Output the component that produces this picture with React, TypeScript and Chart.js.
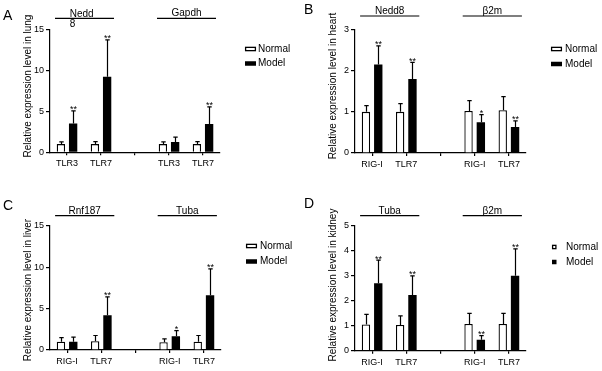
import React, { useEffect, useRef } from "react";
import { Chart, registerables } from "chart.js";

Chart.register(...registerables);

const FONT = '"Liberation Sans", Arial, Helvetica, sans-serif';

const seriesNames = ["Normal", "Model"];

// ---------- Panel A: lung ----------
const catsA = ["TLR3", "TLR7", "", "TLR3", "TLR7"];
const groupsA = [["Nedd", "8"], ["Gapdh"]];
const normalA = [1.0, 1.0, null, 1.0, 1.0];
const normalErrA = [0.28, 0.3, null, 0.28, 0.3];
const modelA = [3.5, 9.2, null, 1.25, 3.45];
const modelErrA = [1.55, 4.5, null, 0.6, 2.1];
const starsA = ["**", "**", "", "", "**"];
const yTicksA = [0, 5, 10, 15];

// ---------- Panel B: heart ----------
const catsB = ["RIG-I", "TLR7", "", "RIG-I", "TLR7"];
const groupsB = [["Nedd8"], ["β2m"]];
const normalB = [1.0, 1.0, null, 1.02, 1.04];
const normalErrB = [0.15, 0.2, null, 0.25, 0.33];
const modelB = [2.15, 1.8, null, 0.75, 0.63];
const modelErrB = [0.45, 0.4, null, 0.18, 0.15];
const starsB = ["**", "**", "", "*", "**"];
const yTicksB = [0, 1, 2, 3];

// ---------- Panel C: liver ----------
const catsC = ["RIG-I", "TLR7", "", "RIG-I", "TLR7"];
const groupsC = [["Rnf187"], ["Tuba"]];
const normalC = [1.0, 1.05, null, 0.95, 1.0];
const normalErrC = [0.5, 0.7, null, 0.4, 0.75];
const modelC = [1.0, 4.2, null, 1.65, 6.6];
const modelErrC = [0.55, 2.2, null, 0.7, 3.2];
const starsC = ["", "**", "", "*", "**"];
const yTicksC = [0, 5, 10, 15];

// ---------- Panel D: kidney ----------
const catsD = ["RIG-I", "TLR7", "", "RIG-I", "TLR7"];
const groupsD = [["Tuba"], ["β2m"]];
const normalD = [1.05, 1.03, null, 1.07, 1.07];
const normalErrD = [0.4, 0.36, null, 0.42, 0.42];
const modelD = [2.7, 2.23, null, 0.44, 3.0];
const modelErrD = [0.92, 0.76, null, 0.16, 1.07];
const starsD = ["**", "**", "", "**", "**"];
const yTicksD = [0, 1, 2, 3, 4, 5];

type Layout = {
  x: number; y: number; w: number; h: number;
  left: number; right: number; top: number; bottom: number;
  letter: string; letterX: number; letterY: number;
  title: string; titleX: number; titleY: number;
  groupLineY: number;
  legendX: number; legendTextX: number; legendY1: number; legendY2: number; squareLegend: boolean;
};

type Spec = {
  cats: string[]; groups: string[][];
  normal: (number | null)[]; normalErr: (number | null)[];
  model: (number | null)[]; modelErr: (number | null)[];
  stars: string[]; yTicks: number[];
  layout: Layout;
};

const specs: Spec[] = [
  {
    cats: catsA, groups: groupsA, normal: normalA, normalErr: normalErrA, model: modelA, modelErr: modelErrA, stars: starsA, yTicks: yTicksA,
    layout: { x: 0, y: 0, w: 301, h: 185, left: 50, right: 220, top: 29.3, bottom: 152.3, letter: "A", letterX: 3, letterY: 20,
      title: "Relative expression level in lung", titleX: 28, titleY: 86, groupLineY: 18.3,
      legendX: 245, legendTextX: 258, legendY1: 49, legendY2: 63.5, squareLegend: false },
  },
  {
    cats: catsB, groups: groupsB, normal: normalB, normalErr: normalErrB, model: modelB, modelErr: modelErrB, stars: starsB, yTicks: yTicksB,
    layout: { x: 301, y: 0, w: 301, h: 185, left: 54, right: 225, top: 29.5, bottom: 153, letter: "B", letterX: 3, letterY: 14,
      title: "Relative expression level in heart", titleX: 32, titleY: 86, groupLineY: 16,
      legendX: 250, legendTextX: 264, legendY1: 49, legendY2: 64, squareLegend: false },
  },
  {
    cats: catsC, groups: groupsC, normal: normalC, normalErr: normalErrC, model: modelC, modelErr: modelErrC, stars: starsC, yTicks: yTicksC,
    layout: { x: 0, y: 185, w: 301, h: 186, left: 50, right: 221, top: 40.7, bottom: 165, letter: "C", letterX: 3, letterY: 25,
      title: "Relative expression level in liver", titleX: 28, titleY: 105, groupLineY: 30.7,
      legendX: 246, legendTextX: 260, legendY1: 61, legendY2: 76.5, squareLegend: false },
  },
  {
    cats: catsD, groups: groupsD, normal: normalD, normalErr: normalErrD, model: modelD, modelErr: modelErrD, stars: starsD, yTicks: yTicksD,
    layout: { x: 301, y: 185, w: 301, h: 186, left: 54, right: 225, top: 40.7, bottom: 165.7, letter: "D", letterX: 3, letterY: 23,
      title: "Relative expression level in kidney", titleX: 32, titleY: 100, groupLineY: 30.7,
      legendX: 251, legendTextX: 265, legendY1: 62, legendY2: 77, squareLegend: true },
  },
];

function Panel({ spec }: { spec: Spec }) {
  const ref = useRef<HTMLCanvasElement>(null);
  useEffect(() => {
    const canvas = ref.current;
    if (!canvas) return;
    const L = spec.layout;

    const decor = {
      id: "decor",
      afterDatasetsDraw(chart: any) {
        const ctx = chart.ctx as CanvasRenderingContext2D;
        const ys = chart.scales.y;
        ctx.save();
        ctx.strokeStyle = "#000";
        ctx.fillStyle = "#000";
        ctx.lineWidth = 1.2;
        [0, 1].forEach((di) => {
          const vals = di === 0 ? spec.normal : spec.model;
          const errs = di === 0 ? spec.normalErr : spec.modelErr;
          const meta = chart.getDatasetMeta(di);
          meta.data.forEach((el: any, i: number) => {
            const v = vals[i];
            const e = errs[i];
            if (v == null || e == null) return;
            const px = Math.round(el.x) + 0.5;
            const yTop = ys.getPixelForValue(v + e);
            const yBar = ys.getPixelForValue(v);
            ctx.beginPath();
            ctx.moveTo(px, yBar);
            ctx.lineTo(px, yTop);
            ctx.moveTo(px - 2.2, yTop);
            ctx.lineTo(px + 2.2, yTop);
            ctx.stroke();
            if (di === 1 && spec.stars[i]) {
              ctx.font = `9px ${FONT}`;
              ctx.textAlign = "center";
              ctx.textBaseline = "alphabetic";
              ctx.fillText(spec.stars[i], px, yTop + 1.5);
            }
          });
        });
        ctx.restore();
      },
      afterDraw(chart: any) {
        const ctx = chart.ctx as CanvasRenderingContext2D;
        const xs = chart.scales.x;
        ctx.save();
        ctx.fillStyle = "#000";
        ctx.strokeStyle = "#000";

        // panel letter
        ctx.font = `14px ${FONT}`;
        ctx.textAlign = "left";
        ctx.textBaseline = "alphabetic";
        ctx.fillText(L.letter, L.letterX, L.letterY);

        // y title
        ctx.save();
        ctx.translate(L.titleX, L.titleY);
        ctx.rotate(-Math.PI / 2);
        ctx.font = `10px ${FONT}`;
        ctx.textAlign = "center";
        ctx.textBaseline = "middle";
        ctx.fillText(L.title, 0, 0);
        ctx.restore();

        // group labels
        const pairs = [[0, 1], [3, 4]];
        ctx.font = `10px ${FONT}`;
        ctx.lineWidth = 1.2;
        spec.groups.forEach((lines, gi) => {
          const [i0, i1] = pairs[gi];
          const lx = xs.getPixelForTick(i0) - 12;
          const rx = xs.getPixelForTick(i1) + 13;
          ctx.beginPath();
          ctx.moveTo(lx, L.groupLineY);
          ctx.lineTo(rx, L.groupLineY);
          ctx.stroke();
          const cx = (lx + rx) / 2;
          if (lines.length === 1) {
            ctx.textAlign = "center";
            ctx.fillText(lines[0], cx, L.groupLineY - 2);
          } else {
            const full = ctx.measureText(lines.join("")).width;
            ctx.textAlign = "left";
            const sx = cx - full / 2;
            ctx.fillText(lines[0], sx, L.groupLineY - 1.8);
            ctx.fillText(lines[1], sx, L.groupLineY + 9);
          }
        });

        // legend
        const rows = [L.legendY1, L.legendY2];
        rows.forEach((cy, ri) => {
          if (L.squareLegend) {
            const s = 4.5;
            if (ri === 0) {
              ctx.fillStyle = "#fff";
              ctx.fillRect(L.legendX, cy - s / 2, s, s);
              ctx.lineWidth = 1.3;
              ctx.strokeRect(L.legendX + 0.6, cy - s / 2 + 0.6, s - 1.2, s - 1.2);
            } else {
              ctx.fillStyle = "#000";
              ctx.fillRect(L.legendX, cy - s / 2, s, s);
            }
          } else {
            const w = 11, h = 4.5;
            if (ri === 0) {
              ctx.fillStyle = "#fff";
              ctx.fillRect(L.legendX, cy - h / 2, w, h);
              ctx.lineWidth = 1.3;
              ctx.strokeRect(L.legendX + 0.6, cy - h / 2 + 0.6, w - 1.2, h - 1.2);
            } else {
              ctx.fillStyle = "#000";
              ctx.fillRect(L.legendX, cy - h / 2, w, h);
            }
          }
          ctx.fillStyle = "#000";
          ctx.font = `10px ${FONT}`;
          ctx.textAlign = "left";
          ctx.textBaseline = "middle";
          ctx.fillText(seriesNames[ri], L.legendTextX, cy);
        });
        ctx.restore();
      },
    };

    const chart = new Chart(canvas, {
      type: "bar",
      data: {
        labels: spec.cats,
        datasets: [
          {
            label: seriesNames[0],
            data: spec.normal as any,
            backgroundColor: "#fff",
            borderColor: "#000",
            borderWidth: 1.3,
            categoryPercentage: 0.72,
            barPercentage: 0.68,
          },
          {
            label: seriesNames[1],
            data: spec.model as any,
            backgroundColor: "#000",
            borderColor: "#000",
            borderWidth: 0,
            categoryPercentage: 0.72,
            barPercentage: 0.68,
          },
        ],
      },
      options: {
        responsive: false,
        animation: false,
        devicePixelRatio: 1,
        layout: { padding: { left: 0, top: L.top, right: L.w - L.right, bottom: 0 } },
        plugins: { legend: { display: false }, tooltip: { enabled: false }, title: { display: false } },
        scales: {
          x: {
            type: "category",
            offset: true,
            grid: { display: true, drawOnChartArea: false, drawTicks: true, tickLength: 3, color: "#000", lineWidth: 1.2, offset: false },
            border: { display: true, color: "#000", width: 1.2 },
            ticks: { font: { family: FONT, size: 9 }, color: "#000", padding: 3, maxRotation: 0, autoSkip: false },
            afterFit: (s: any) => { s.height = L.h - L.bottom; },
          },
          y: {
            min: 0,
            max: spec.yTicks[spec.yTicks.length - 1],
            afterBuildTicks: (s: any) => { s.ticks = spec.yTicks.map((v) => ({ value: v })); },
            grid: { display: true, drawOnChartArea: false, drawTicks: true, tickLength: 4, color: "#000", lineWidth: 1.2 },
            border: { display: true, color: "#000", width: 1.2 },
            ticks: { font: { family: FONT, size: 9 }, color: "#000", padding: 2 },
            afterFit: (s: any) => { s.width = L.left; },
          },
        },
      } as any,
      plugins: [decor],
    });
    return () => chart.destroy();
  }, [spec]);

  const L = spec.layout;
  return (
    <canvas
      ref={ref}
      width={L.w}
      height={L.h}
      style={{ position: "absolute", left: L.x, top: L.y, width: L.w, height: L.h }}
    />
  );
}

export default function App() {
  return (
    <div style={{ position: "absolute", left: 0, top: 0, width: 602, height: 371, background: "#fff" }}>
      {specs.map((s, i) => (
        <Panel key={i} spec={s} />
      ))}
    </div>
  );
}
